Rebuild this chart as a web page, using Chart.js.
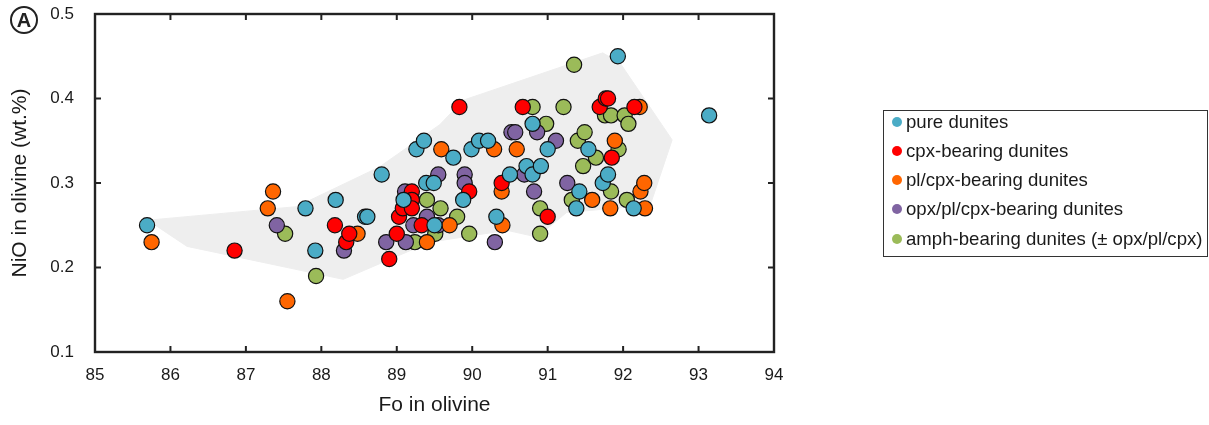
<!DOCTYPE html>
<html>
<head>
<meta charset="utf-8">
<script src="https://cdn.jsdelivr.net/npm/chart.js@4"></script>
<style>
  body { margin: 0; background: #fff; font-family: "Liberation Sans", Arial, sans-serif; }
  #wrap { position: relative; width: 1209px; height: 425px; }
  #panel {
    position: absolute; left: 10px; top: 6px; width: 28px; height: 28px;
    border: 2px solid #222; border-radius: 50%; box-sizing: border-box;
    font: bold 20px "Liberation Sans", Arial, sans-serif; color: #222;
    text-align: center; line-height: 25px;
  }
  #legend {
    position: absolute; left: 883px; top: 110px; width: 325px; height: 147px;
    border: 1.5px solid #333; box-sizing: border-box;
  }
  .item { position: absolute; left: 8px; height: 22px; line-height: 22px;
    font-size: 18.6px; color: #1a1a1a; white-space: nowrap; }
  .dot { display: inline-block; width: 10px; height: 10px; border-radius: 50%;
    margin-right: 4px; vertical-align: 1px; }
</style>
</head>
<body>
<div id="wrap">
  <canvas id="chart" width="1209" height="425"></canvas>
  <div id="panel">A</div>
  <div id="legend"></div>
</div>
<script>
// axis ticks
const foTicks = [85, 86, 87, 88, 89, 90, 91, 92, 93, 94];
const nioTicks = [0.1, 0.2, 0.3, 0.4, 0.5];

// series: [Fo, NiO]
const pureDunites = [
  [85.69, 0.25], [87.79, 0.27], [87.92, 0.22], [88.19, 0.28], [88.58, 0.26], [88.61, 0.26],
  [88.80, 0.31], [89.09, 0.28], [89.26, 0.34], [89.36, 0.35], [89.39, 0.30], [89.49, 0.30],
  [89.50, 0.25], [89.75, 0.33], [89.88, 0.28], [89.99, 0.34], [90.09, 0.35], [90.21, 0.35],
  [90.32, 0.26], [90.50, 0.31], [90.72, 0.32], [90.80, 0.31], [90.80, 0.37], [90.91, 0.32],
  [91.00, 0.34], [91.38, 0.27], [91.42, 0.29], [91.54, 0.34], [91.73, 0.30], [91.80, 0.31],
  [91.93, 0.45], [92.14, 0.27], [93.14, 0.38]
];
const cpxDunites = [
  [86.85, 0.22], [88.18, 0.25], [88.33, 0.23], [88.37, 0.24], [88.90, 0.21], [89.00, 0.24],
  [89.03, 0.26], [89.08, 0.27], [89.20, 0.29], [89.20, 0.28], [89.20, 0.27], [89.33, 0.25],
  [89.83, 0.39], [89.96, 0.29], [90.39, 0.30], [90.67, 0.39], [91.00, 0.26], [91.69, 0.39],
  [91.77, 0.40], [91.80, 0.40], [91.85, 0.33], [92.15, 0.39]
];
const plCpxDunites = [
  [85.75, 0.23], [87.29, 0.27], [87.36, 0.29], [87.55, 0.16], [88.48, 0.24], [89.40, 0.23],
  [89.59, 0.34], [89.70, 0.25], [90.29, 0.34], [90.39, 0.29], [90.40, 0.25], [90.59, 0.34],
  [91.59, 0.28], [91.83, 0.27], [91.89, 0.35], [92.22, 0.39], [92.23, 0.29], [92.28, 0.30],
  [92.29, 0.27]
];
const opxPlCpxDunites = [
  [87.41, 0.25], [88.30, 0.22], [88.86, 0.23], [89.11, 0.29], [89.12, 0.23], [89.22, 0.25],
  [89.40, 0.26], [89.55, 0.25], [89.55, 0.31], [89.90, 0.31], [89.90, 0.30], [90.30, 0.23],
  [90.52, 0.36], [90.57, 0.36], [90.69, 0.31], [90.82, 0.29], [90.86, 0.36], [91.11, 0.35],
  [91.26, 0.30]
];
const amphDunites = [
  [87.52, 0.24], [87.93, 0.19], [89.24, 0.23], [89.40, 0.28], [89.51, 0.24], [89.58, 0.27],
  [89.80, 0.26], [89.96, 0.24], [90.80, 0.39], [90.90, 0.27], [90.90, 0.24], [90.98, 0.37],
  [91.21, 0.39], [91.35, 0.44], [91.32, 0.28], [91.40, 0.35], [91.47, 0.32], [91.49, 0.36],
  [91.64, 0.33], [91.76, 0.38], [91.84, 0.38], [91.84, 0.29], [91.94, 0.34], [92.02, 0.38],
  [92.05, 0.28], [92.07, 0.37]
];
// grey field outline
const fieldOutline = [
  [85.70, 0.256], [86.22, 0.225], [88.29, 0.186], [89.44, 0.230], [90.46, 0.244],
  [90.86, 0.236], [91.25, 0.265], [92.36, 0.274], [92.65, 0.351], [91.96, 0.442],
  [91.73, 0.454], [89.88, 0.398], [89.57, 0.369], [88.77, 0.319], [87.67, 0.272],
  [85.70, 0.256]
];

const labels = [
  'pure dunites',
  'cpx-bearing dunites',
  'pl/cpx-bearing dunites',
  'opx/pl/cpx-bearing dunites',
  'amph-bearing dunites (\u00b1 opx/pl/cpx)'
];
const colors = ['#4BACC6', '#FF0000', '#FF6600', '#8064A2', '#9BBB59'];
const series = [pureDunites, cpxDunites, plCpxDunites, opxPlCpxDunites, amphDunites];

const toPoints = arr => arr.map(([x, y]) => ({ x, y }));

const datasets = series.map((s, i) => ({
  label: labels[i],
  data: toPoints(s),
  backgroundColor: colors[i],
  borderColor: '#111',
  borderWidth: 1.2,
  pointRadius: 7.6,
  order: i + 1
}));
datasets.push({
  label: 'field',
  data: toPoints(fieldOutline),
  showLine: true,
  fill: 'shape',
  backgroundColor: '#EEEEEE',
  borderColor: '#EEEEEE',
  borderWidth: 1,
  pointRadius: 0,
  order: 20
});

// frame with inward ticks on all four sides
const framePlugin = {
  id: 'frame',
  afterDraw(chart) {
    const { ctx, chartArea: a, scales: { x, y } } = chart;
    ctx.save();
    ctx.strokeStyle = '#222';
    ctx.lineWidth = 2;
    foTicks.slice(1, -1).forEach(v => {
      const px = x.getPixelForValue(v);
      ctx.beginPath();
      ctx.moveTo(px, a.bottom); ctx.lineTo(px, a.bottom - 6);
      ctx.moveTo(px, a.top); ctx.lineTo(px, a.top + 6);
      ctx.stroke();
    });
    nioTicks.slice(1, -1).forEach(v => {
      const py = y.getPixelForValue(v);
      ctx.beginPath();
      ctx.moveTo(a.left, py); ctx.lineTo(a.left + 6, py);
      ctx.moveTo(a.right, py); ctx.lineTo(a.right - 6, py);
      ctx.stroke();
    });
    ctx.lineWidth = 2.4;
    ctx.strokeRect(a.left, a.top, a.right - a.left, a.bottom - a.top);
    ctx.restore();
  }
};

const tickFont = { family: '"Liberation Sans", Arial, sans-serif', size: 17 };
const titleFont = { family: '"Liberation Sans", Arial, sans-serif', size: 21 };

new Chart(document.getElementById('chart'), {
  type: 'scatter',
  data: { datasets },
  options: {
    responsive: false,
    animation: false,
    layout: { padding: { top: 14, right: 435, left: 0, bottom: 0 } },
    plugins: { legend: { display: false }, tooltip: { enabled: false } },
    scales: {
      x: {
        type: 'linear', min: 85, max: 94,
        afterBuildTicks: s => { s.ticks = foTicks.map(v => ({ value: v })); },
        afterFit: s => { s.height = 73; s.paddingLeft = 0; s.paddingRight = 0; },
        grid: { display: false },
        border: { display: false },
        ticks: { font: tickFont, color: '#1a1a1a', padding: 5, maxRotation: 0 },
        title: { display: true, text: 'Fo in olivine', font: titleFont, color: '#1a1a1a', padding: { top: 0, bottom: 7 } }
      },
      y: {
        type: 'linear', min: 0.1, max: 0.5,
        afterBuildTicks: s => { s.ticks = nioTicks.map(v => ({ value: v })); },
        afterFit: s => { s.width = 95; s.paddingTop = 0; s.paddingBottom = 0; },
        grid: { display: false },
        border: { display: false },
        ticks: { font: tickFont, color: '#1a1a1a', padding: 13, callback: v => v.toFixed(1) },
        title: { display: true, text: 'NiO in olivine (wt.%)', font: titleFont, color: '#1a1a1a', padding: { top: 8, bottom: 0 } }
      }
    }
  },
  plugins: [framePlugin]
});

// legend box
const legendEl = document.getElementById('legend');
labels.forEach((lab, i) => {
  const item = document.createElement('div');
  item.className = 'item';
  item.style.top = (122 + i * 29.3 - 11 - 111.5) + 'px';
  item.innerHTML = `<span class="dot" style="background:${colors[i]}"></span>${lab}`;
  legendEl.appendChild(item);
});
</script>
</body>
</html>
